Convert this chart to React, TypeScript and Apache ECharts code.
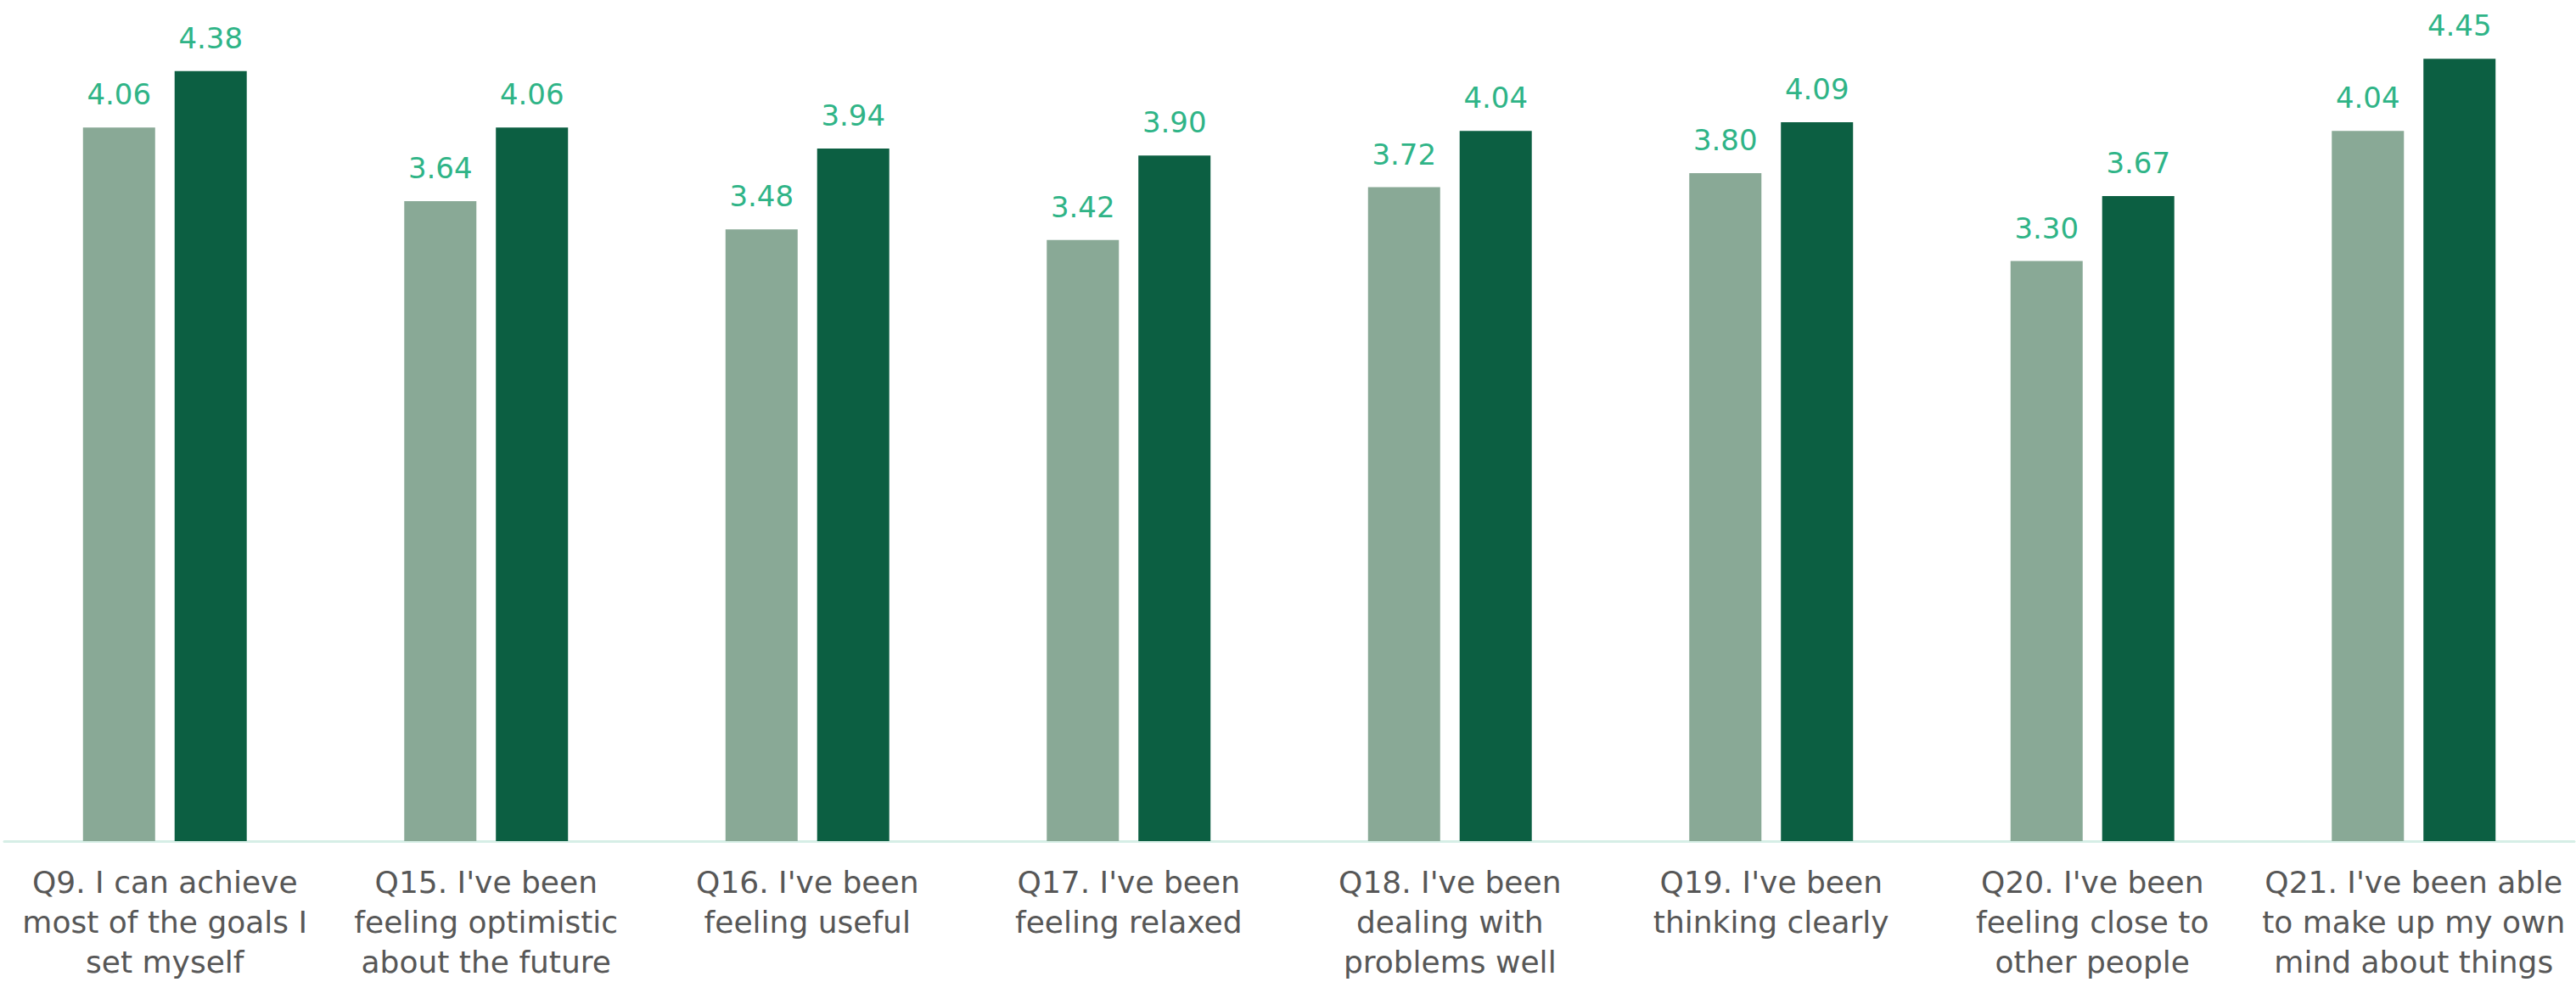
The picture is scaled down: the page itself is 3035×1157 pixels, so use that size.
import React, { useEffect, useRef } from "react";
import * as echarts from "echarts";

const categories = [
  "Q9. I can achieve\nmost of the goals I\nset myself",
  "Q15. I've been\nfeeling optimistic\nabout the future",
  "Q16. I've been\nfeeling useful",
  "Q17. I've been\nfeeling relaxed",
  "Q18. I've been\ndealing with\nproblems well",
  "Q19. I've been\nthinking clearly",
  "Q20. I've been\nfeeling close to\nother people",
  "Q21. I've been able\nto make up my own\nmind about things",
];

const seriesLightName = "Series 1";
const seriesLightValues = [4.06, 3.64, 3.48, 3.42, 3.72, 3.8, 3.3, 4.04];

const seriesDarkName = "Series 2";
const seriesDarkValues = [4.38, 4.06, 3.94, 3.9, 4.04, 4.09, 3.67, 4.45];

const FONT = "'Century Gothic', 'URW Gothic', 'DejaVu Sans', sans-serif";

export default function App() {
  const ref = useRef<HTMLDivElement>(null);

  useEffect(() => {
    if (!ref.current) return;
    const chart = echarts.init(ref.current, undefined, { renderer: "svg" });
    const valueLabel = {
      show: true,
      position: "top",
      distance: 22,
      color: "#2fb487",
      fontSize: 34,
      fontFamily: FONT,
      formatter: (p: any) => Number(p.value).toFixed(2),
    };
    chart.setOption({
      animation: false,
      backgroundColor: "#ffffff",
      grid: { left: 5, right: 2, top: 59, bottom: 166, containLabel: false },
      xAxis: {
        type: "category",
        data: categories,
        axisLine: { show: true, lineStyle: { color: "#d6eee6", width: 3 } },
        axisTick: { show: false },
        axisLabel: {
          interval: 0,
          margin: 25,
          color: "#575757",
          fontSize: 36,
          lineHeight: 47,
          fontFamily: FONT,
          align: "center",
        },
      },
      yAxis: {
        type: "value",
        min: 0,
        max: 4.5,
        show: false,
        splitLine: { show: false },
      },
      series: [
        {
          name: seriesLightName,
          type: "bar",
          data: seriesLightValues,
          barWidth: 85,
          barGap: "27%",
          itemStyle: { color: "#89a996" },
          label: valueLabel,
        },
        {
          name: seriesDarkName,
          type: "bar",
          data: seriesDarkValues,
          barWidth: 85,
          itemStyle: { color: "#0c5f42" },
          label: valueLabel,
        },
      ],
    });
    return () => chart.dispose();
  }, []);

  return (
    <div
      ref={ref}
      style={{ position: "fixed", left: 0, top: 0, width: 3035, height: 1157 }}
    />
  );
}
